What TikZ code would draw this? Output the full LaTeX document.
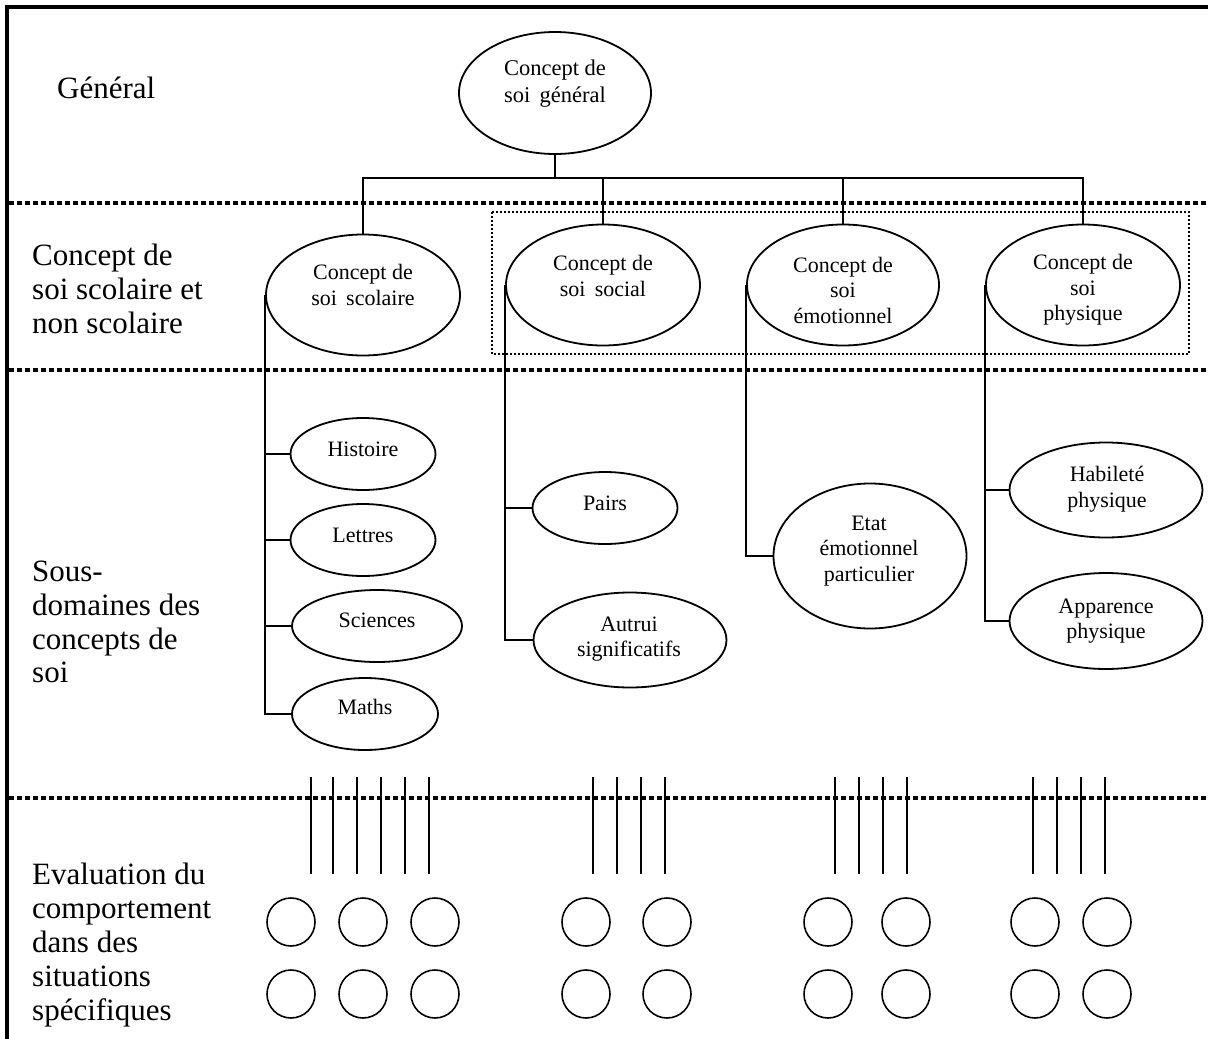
\documentclass[tikz,border=0pt]{standalone}
\usepackage{fontspec}
\setmainfont{Liberation Serif}
\usetikzlibrary{shapes.geometric}
\begin{document}
\begin{tikzpicture}[x=1pt,y=-1pt,
 ell/.style={draw, ellipse, line width=1.8pt, inner sep=0pt},
 etxt/.style={align=center, font=\fontsize{22}{25.5}\selectfont, inner sep=0pt},
 lvl/.style={align=left, anchor=west, font=\fontsize{31}{33.8}\selectfont, inner sep=0pt},
 conn/.style={line width=1.8pt},
 sepline/.style={line width=3.8pt, dash pattern=on 4.5pt off 3.5pt},
 circ/.style={draw, circle, line width=1.6pt, minimum size=48pt, inner sep=0pt},
 tickline/.style={line width=1.4pt}]
\useasboundingbox (0,0) rectangle (1208,1039);
% frame
\draw[line width=4pt, line join=miter] (7,1045) -- (7,7) -- (1215,7);
% separators
\draw[sepline] (9,203) -- (1208,203);
\draw[sepline] (9,370) -- (1208,370);
\draw[sepline] (9,798) -- (1208,798);
% dotted group rectangle
\draw[line width=2pt, dash pattern=on 2pt off 2pt] (492,212) rectangle (1189,354);

% level labels
\node[lvl] (lg) at (57,88) {Général};
\node[lvl] (l2) at (32,289) {Concept de\\soi scolaire et\\non scolaire};
\node[lvl] (l3) at (32,622) {Sous-\\domaines des\\concepts de\\soi};
\node[lvl] (l4) at (32,945) {Evaluation du\\comportement\\dans des\\situations\\spécifiques};

% top ellipse
\node[ell, minimum width=192pt, minimum height=122pt] (gen) at (555,93) {};
\node[etxt, font=\fontsize{22.5}{27}\selectfont] (gent) at (555,84) {Concept de\\soi\, général};

% level 2
\node[ell, minimum width=194pt, minimum height=121pt] (scol) at (363,295) {};
\node[etxt] (scolt) at (363,285) {Concept de\\soi\, scolaire};
\node[ell, minimum width=194pt, minimum height=121pt] (soc) at (603,285) {};
\node[etxt] (soct) at (603,276) {Concept de\\soi\, social};
\node[ell, minimum width=192pt, minimum height=121pt] (emo) at (843,285) {};
\node[etxt] (emot) at (843,290) {Concept de\\soi\\émotionnel};
\node[ell, minimum width=194pt, minimum height=121pt] (phys) at (1083,285) {};
\node[etxt] (physt) at (1083,290) {Concept de\\soi\\physique};

% tree connectors
\coordinate (bus) at (555,178);
\draw[conn] (gen.south) -- (bus);
\draw[conn] (scol.north) |- (phys.north |- bus) -- (phys.north);
\draw[conn] (soc.north) -- (soc.north |- bus);
\draw[conn] (emo.north) -- (emo.north |- bus);

% sub-domains scolaire
\node[ell, minimum width=145pt, minimum height=72pt] (hist) at (363,454) {};
\node[etxt] (histt) at (363,449) {Histoire};
\node[ell, minimum width=145pt, minimum height=72pt] (lett) at (363,540) {};
\node[etxt] (lettt) at (363,535) {Lettres};
\node[ell, minimum width=170pt, minimum height=72pt] (sci) at (377,626) {};
\node[etxt] (scit) at (377,620) {Sciences};
\node[ell, minimum width=146pt, minimum height=72pt] (math) at (365,714) {};
\node[etxt] (matht) at (365,707) {Maths};
\draw[conn] (scol.west) |- (math.west);
\draw[conn] (scol.west |- hist.west) -- (hist.west);
\draw[conn] (scol.west |- lett.west) -- (lett.west);
\draw[conn] (scol.west |- sci.west) -- (sci.west);

% social
\node[ell, minimum width=145pt, minimum height=72pt] (pairs) at (605,508) {};
\node[etxt] (pairst) at (605,503) {Pairs};
\node[ell, minimum width=193pt, minimum height=95pt] (autr) at (630,640) {};
\node[etxt] (autrt) at (629,639) {Autrui\\significatifs};
\draw[conn] (soc.west) |- (autr.west);
\draw[conn] (soc.west |- pairs.west) -- (pairs.west);

% emotionnel
\node[ell, minimum width=193pt, minimum height=145pt] (etat) at (870,556) {};
\node[etxt] (etatt) at (869,551) {Etat\\émotionnel\\particulier};
\draw[conn] (emo.west) |- (etat.west);

% physique
\node[ell, minimum width=193pt, minimum height=95pt] (hab) at (1106,490) {};
\node[etxt] (habt) at (1107,489) {Habileté\\physique};
\node[ell, minimum width=193pt, minimum height=96pt] (app) at (1106,621) {};
\node[etxt] (appt) at (1106,621) {Apparence\\physique};
\draw[conn] (phys.west) |- (app.west);
\draw[conn] (phys.west |- hab.west) -- (hab.west);

% evaluation ticks
\foreach \x in {311,333,357,381,405,429,593,617,641,665,835,859,883,907,1033,1057,1081,1105}
  \draw[tickline] (\x,777) -- (\x,874);

% evaluation circles
\foreach \x/\n in {291/a,363/b,435/c,586/d,667/e,828/f,906/g,1035/h,1107/i} {
  \node[circ] (c1\n) at (\x,922) {};
  \node[circ] (c2\n) at (\x,994) {};
}
\end{tikzpicture}
\end{document}
